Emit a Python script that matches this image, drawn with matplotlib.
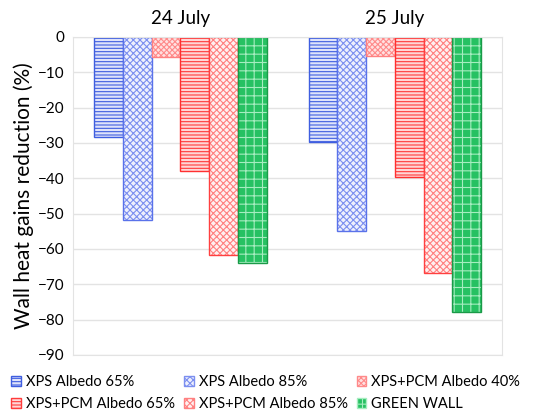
import numpy as np
import matplotlib.pyplot as plt
from matplotlib.patches import Patch

plt.rcParams['font.family'] = ['Lato', 'DejaVu Sans']
plt.rcParams['hatch.linewidth'] = 0.8

days = ['24 July', '25 July']
series = ['XPS Albedo 65%', 'XPS Albedo 85%', 'XPS+PCM Albedo 40%',
          'XPS+PCM Albedo 65%', 'XPS+PCM Albedo 85%', 'GREEN WALL']
reduction = {
    'XPS Albedo 65%':     [-28.2, -29.7],
    'XPS Albedo 85%':     [-51.8, -55.0],
    'XPS+PCM Albedo 40%': [-5.7, -5.4],
    'XPS+PCM Albedo 65%': [-38.0, -39.6],
    'XPS+PCM Albedo 85%': [-61.8, -66.8],
    'GREEN WALL':         [-63.9, -77.9],
}

# face, hatch colour, hatch, outline
styles = {
    'XPS Albedo 65%':     ('#dfe3fb', '#3f5ee0', '-----', '#3f5ee0'),
    'XPS Albedo 85%':     ('#eef0fd', '#7c8ff0', 'xxxxx', '#5a72ea'),
    'XPS+PCM Albedo 40%': ('#ffe1e1', '#ff8a8a', 'xxxxxx', '#ff8080'),
    'XPS+PCM Albedo 65%': ('#ffd6d6', '#ff3b3b', '-----', '#ff3030'),
    'XPS+PCM Albedo 85%': ('#fff0f0', '#ff8080', 'xxxxx', '#ff4040'),
    'GREEN WALL':         ('#26c162', '#a6edc0', '++', '#1a9a48'),
}

fig = plt.figure(figsize=(5.58, 4.15), dpi=100)
ax = fig.add_axes([0.131, 0.145, 0.769, 0.766])

x = np.arange(len(days))
n = len(series)
w = 0.134
handles = []
for i, name in enumerate(series):
    fc, hc, hatch, ec = styles[name]
    pos = x + (i - (n - 1) / 2) * w
    ax.bar(pos, reduction[name], w, color=fc, edgecolor=hc, hatch=hatch, linewidth=0)
    ax.bar(pos, reduction[name], w, facecolor='none', edgecolor=ec, linewidth=1.0)
    handles.append(Patch(facecolor=fc, edgecolor=hc, hatch=hatch, label=name))

ax.set_xlim(-0.5, 1.5)
ax.set_ylim(-90, 0)
ax.set_yticks(np.arange(-90, 1, 10))
ax.yaxis.grid(True, color='#e3e3e3', linewidth=1)
ax.set_axisbelow(True)
for s in ax.spines.values():
    s.set_color('#e3e3e3')
ax.tick_params(axis='y', length=0, labelsize=11, pad=6)

ax.xaxis.tick_top()
ax.set_xticks(x)
ax.set_xticklabels(days, fontsize=13.5)
ax.tick_params(axis='x', length=0, pad=7)

ax.set_ylabel('Wall heat gains reduction (%)', fontsize=15, labelpad=3)

order = [0, 3, 1, 4, 2, 5]
fig.legend([handles[k] for k in order], [series[k] for k in order],
           ncol=3, loc='lower left', bbox_to_anchor=(-0.003, -0.022), frameon=False,
           fontsize=10.5, handlelength=0.65, handleheight=0.65, handletextpad=0.35,
           columnspacing=0.62, labelspacing=0.55)

fig.savefig('out.png', dpi=100)
